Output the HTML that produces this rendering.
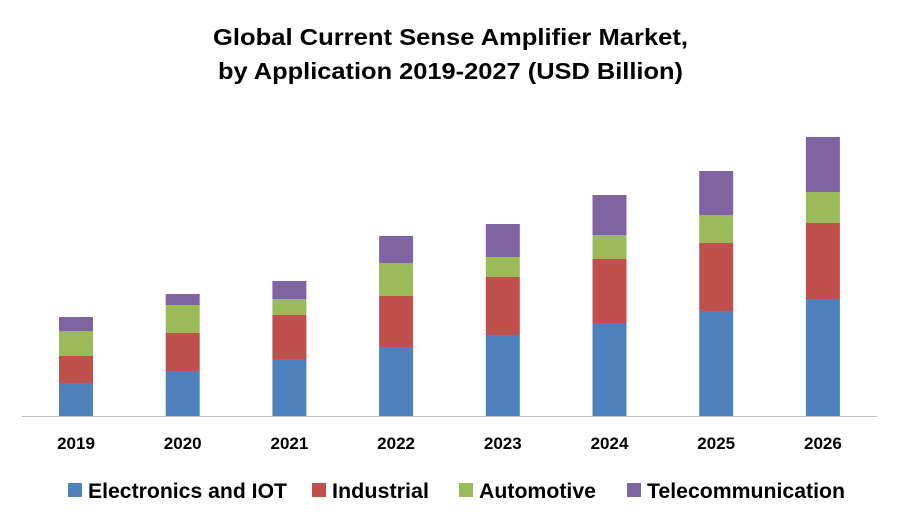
<!DOCTYPE html>
<html><head><meta charset="utf-8"><style>
body{margin:0;background:#fff;width:900px;height:525px;overflow:hidden;font-family:"Liberation Sans",Arial,sans-serif}
</style></head><body>
<svg width="900" height="525" xmlns="http://www.w3.org/2000/svg">
<text x="213" y="45" textLength="475" lengthAdjust="spacingAndGlyphs" font-size="23" font-weight="bold" fill="#000">Global Current Sense Amplifier Market,</text>
<text x="218" y="79" textLength="465" lengthAdjust="spacingAndGlyphs" font-size="23" font-weight="bold" fill="#000">by Application 2019-2027 (USD Billion)</text>
<g id="bars"></g>
<line x1="22" y1="416.5" x2="877" y2="416.5" stroke="#bfbfbf" stroke-width="1"/>
<g id="xlabels"></g>
<g id="legend"></g>
</svg>
<script>
const categories=["2019","2020","2021","2022","2023","2024","2025","2026"];
const electronics=[33,45,57,69,81,93,105,117];
const industrial=[27,38,44,51,58,64,68,76];
const automotive=[25,28,16,33,20,24,28,31];
const telecom=[14,11,18,27,33,40,44,55];
const seriesNames=["Electronics and IOT","Industrial","Automotive","Telecommunication"];
const colors=["#4f81bd","#c0504d","#9bbb59","#8064a2"];
const series=[electronics,industrial,automotive,telecom];
const NS="http://www.w3.org/2000/svg";
const baseY=416, pxPerUnit=1, x0=76, step=106.7, bw=34;
function xPos(i){return x0+i*step;}
function yPos(v){return baseY-v*pxPerUnit;}
const bars=document.getElementById('bars');
categories.forEach((c,i)=>{
  let cum=0;
  series.forEach((s,k)=>{
    const r=document.createElementNS(NS,'rect');
    const y1=yPos(cum+s[i]), y0=yPos(cum);
    r.setAttribute('x',xPos(i)-bw/2);r.setAttribute('y',y1);
    r.setAttribute('width',bw);r.setAttribute('height',y0-y1);
    r.setAttribute('fill',colors[k]);
    
    
    bars.appendChild(r);
    cum+=s[i];
  });
  const t=document.createElementNS(NS,'text');
  t.setAttribute('x',xPos(i));t.setAttribute('y',449);
  t.setAttribute('text-anchor','middle');t.setAttribute('font-size','17');t.setAttribute('font-weight','bold');
  t.textContent=c;
  
  
  document.getElementById('xlabels').appendChild(t);
});
const lx=[68,312,459,627];
const lw=[199,97,117,198];
const leg=document.getElementById('legend');
seriesNames.forEach((n,k)=>{
  const g=document.createElementNS(NS,'g');
  
  
  const r=document.createElementNS(NS,'rect');
  r.setAttribute('x',lx[k]);r.setAttribute('y',483);r.setAttribute('width',14);r.setAttribute('height',14);r.setAttribute('fill',colors[k]);
  const t=document.createElementNS(NS,'text');
  t.setAttribute('x',lx[k]+20);t.setAttribute('y',498);t.setAttribute('font-size','21');t.setAttribute('font-weight','bold');
  t.setAttribute('textLength',lw[k]);t.setAttribute('lengthAdjust','spacingAndGlyphs');
  t.textContent=n;
  g.appendChild(r);g.appendChild(t);leg.appendChild(g);
});
</script>
</body></html>
